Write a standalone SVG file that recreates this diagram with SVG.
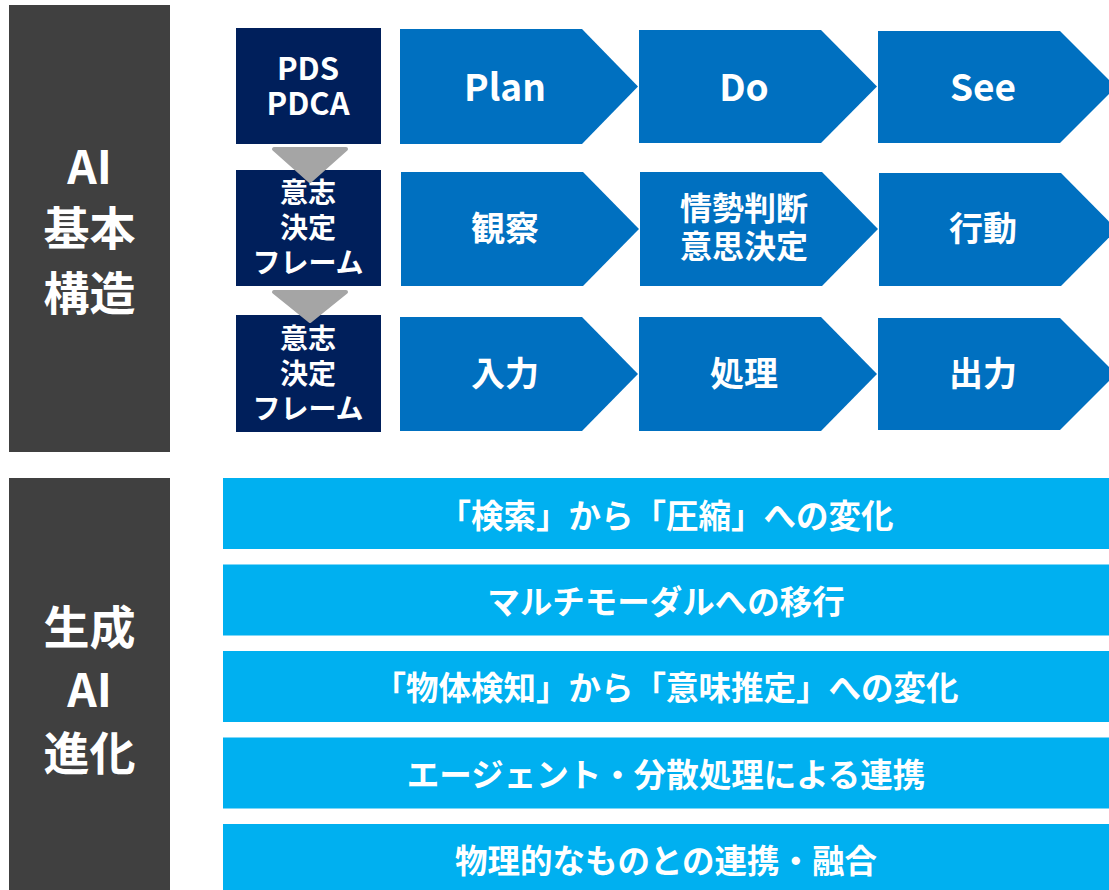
<svg xmlns="http://www.w3.org/2000/svg" width="1109" height="890" viewBox="0 0 1109 890">
<style>
.side{fill:#404040}
.navy{fill:#001F5B}
.chev{fill:#0070C0}
.bar{fill:#00B0F0}
.tri{fill:#A5A5A5;stroke:#A5A5A5;stroke-width:4;stroke-linejoin:round}
text{font-family:"Noto Sans CJK JP","Noto Sans",sans-serif;font-weight:700;fill:#FFFFFF;text-anchor:middle}
.t46{font-size:46px}
.t30{font-size:31px}
.t28{font-size:28px}
.t36{font-size:37px}
.t34{font-size:34px}
.t32{font-size:32px}
.t33{font-size:32.5px}
</style>
<rect width="1109" height="890" fill="#FFFFFF"/>

<g id="side-basic">
<rect class="side" x="9" y="5" width="161" height="447"/>
<text class="t46"><tspan x="89.5" y="184">AI</tspan><tspan x="89.5" y="245">基本</tspan><tspan x="89.5" y="310">構造</tspan></text>
</g>
<g id="side-genai">
<rect class="side" x="9" y="478" width="161" height="412"/>
<text class="t46"><tspan x="89.5" y="644">生成</tspan><tspan x="89.5" y="707">AI</tspan><tspan x="89.5" y="770">進化</tspan></text>
</g>

<g id="frame1">
<rect class="navy" x="236" y="28" width="145" height="116"/>
<text class="t30"><tspan x="308" y="80">PDS</tspan><tspan x="308" y="115">PDCA</tspan></text>
</g>
<g id="frame2">
<rect class="navy" x="236" y="170" width="145" height="116"/>
<text class="t28"><tspan x="308" y="203">意志</tspan><tspan x="308" y="238">決定</tspan><tspan x="308" y="273">フレーム</tspan></text>
</g>
<g id="frame3">
<rect class="navy" x="236" y="315" width="145" height="117"/>
<text class="t28"><tspan x="308" y="349">意志</tspan><tspan x="308" y="384">決定</tspan><tspan x="308" y="419">フレーム</tspan></text>
</g>

<g id="connectors">
<polygon class="tri" points="274,149 346,149 310,181"/>
<polygon class="tri" points="274,292 346,292 310,321"/>
</g>

<g id="plan">
<polygon class="chev" points="400,29 582,29 638,86.5 582,144 400,144"/>
<text class="t36" x="505" y="101">Plan</text>
</g>
<g id="do">
<polygon class="chev" points="639,30 821,30 877,86.5 821,143 639,143"/>
<text class="t36" x="744" y="101">Do</text>
</g>
<g id="see">
<polygon class="chev" points="878,31 1060,31 1116,87 1060,143 878,143"/>
<text class="t36" x="983" y="101">See</text>
</g>

<g id="observe">
<polygon class="chev" points="401,172 583,172 639,229 583,286 401,286"/>
<text class="t34" x="505" y="241">観察</text>
</g>
<g id="judge">
<polygon class="chev" points="640,172 822,172 878,229 822,286 640,286"/>
<text class="t32"><tspan x="744" y="220">情勢判断</tspan><tspan x="744" y="258">意思決定</tspan></text>
</g>
<g id="act">
<polygon class="chev" points="879,173 1061,173 1117,229.5 1061,286 879,286"/>
<text class="t34" x="983" y="241">行動</text>
</g>

<g id="input">
<polygon class="chev" points="400,317 582,317 638,374 582,431 400,431"/>
<text class="t34" x="505" y="386">入力</text>
</g>
<g id="process">
<polygon class="chev" points="639,317 821,317 877,374 821,431 639,431"/>
<text class="t34" x="744" y="386">処理</text>
</g>
<g id="output">
<polygon class="chev" points="878,318 1060,318 1116,374 1060,430 878,430"/>
<text class="t34" x="983" y="386">出力</text>
</g>

<g id="bar1">
<rect class="bar" x="223" y="478" width="886" height="71"/>
<text class="t33" x="666" y="528">「検索」から「圧縮」への変化</text>
</g>
<g id="bar2">
<rect class="bar" x="223" y="564.5" width="886" height="71"/>
<text class="t33" x="666" y="614">マルチモーダルへの移行</text>
</g>
<g id="bar3">
<rect class="bar" x="223" y="651" width="886" height="71"/>
<text class="t33" x="666" y="700">「物体検知」から「意味推定」への変化</text>
</g>
<g id="bar4">
<rect class="bar" x="223" y="737.5" width="886" height="71"/>
<text class="t33" x="666" y="787">エージェント・分散処理による連携</text>
</g>
<g id="bar5">
<rect class="bar" x="223" y="824" width="886" height="71"/>
<text class="t33" x="666" y="873">物理的なものとの連携・融合</text>
</g>
</svg>
